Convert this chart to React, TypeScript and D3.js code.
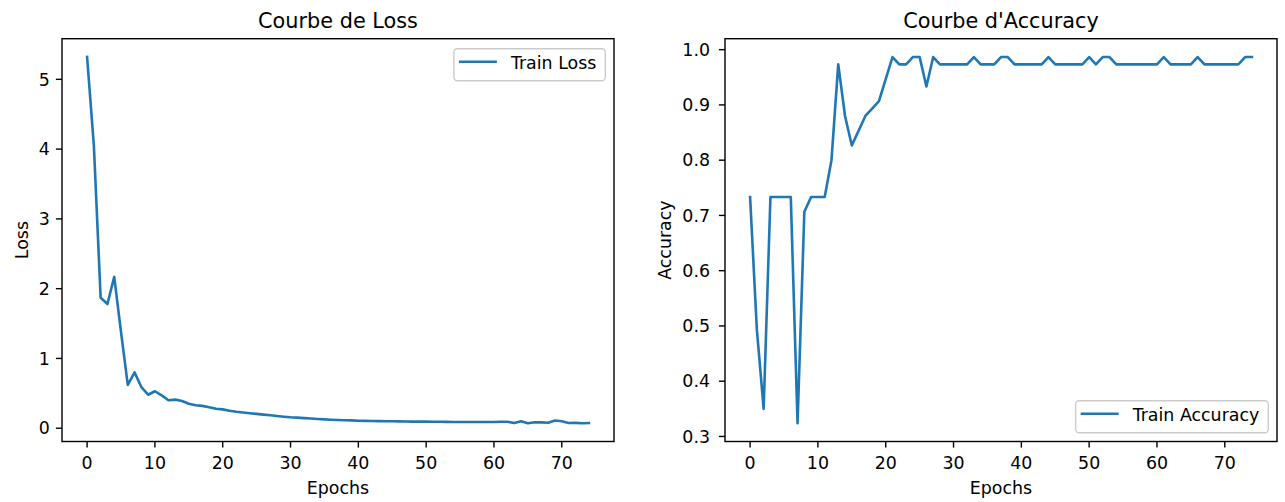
import React, { useEffect, useRef } from "react";
import * as d3 from "d3";

// Train loss per epoch
const lossValues = [
  5.32, 4.05, 1.87, 1.78, 2.17, 1.38, 0.62, 0.8, 0.59, 0.48,
  0.53, 0.47, 0.4, 0.41, 0.39, 0.35, 0.33, 0.32, 0.3, 0.28,
  0.27, 0.25, 0.235, 0.225, 0.215, 0.205, 0.195, 0.185, 0.175, 0.165,
  0.157, 0.152, 0.145, 0.14, 0.133, 0.127, 0.122, 0.118, 0.115, 0.112,
  0.108, 0.105, 0.104, 0.102, 0.1, 0.099, 0.098, 0.097, 0.095, 0.094,
  0.094, 0.093, 0.092, 0.091, 0.09, 0.089, 0.09, 0.089, 0.088, 0.089,
  0.09, 0.093, 0.092, 0.075, 0.1, 0.072, 0.085, 0.084, 0.078, 0.11,
  0.1, 0.074, 0.076, 0.072, 0.075,
];

// Train accuracy per epoch
const accuracyValues = [
  0.7333, 0.4933, 0.35, 0.7333, 0.7333, 0.7333, 0.7333, 0.324, 0.7067, 0.7333,
  0.7333, 0.7333, 0.8, 0.9733, 0.88, 0.8267, 0.8533, 0.88, 0.8933, 0.9067,
  0.9467, 0.9867, 0.9733, 0.9733, 0.9867, 0.9867, 0.9333, 0.9867, 0.9733, 0.9733,
  0.9733, 0.9733, 0.9733, 0.9867, 0.9733, 0.9733, 0.9733, 0.9867, 0.9867, 0.9733,
  0.9733, 0.9733, 0.9733, 0.9733, 0.9867, 0.9733, 0.9733, 0.9733, 0.9733, 0.9733,
  0.9867, 0.9733, 0.9867, 0.9867, 0.9733, 0.9733, 0.9733, 0.9733, 0.9733, 0.9733,
  0.9733, 0.9867, 0.9733, 0.9733, 0.9733, 0.9733, 0.9867, 0.9733, 0.9733, 0.9733,
  0.9733, 0.9733, 0.9733, 0.9867, 0.9867,
];

const epochTicks = [0, 10, 20, 30, 40, 50, 60, 70];
const lossTicks = [0, 1, 2, 3, 4, 5];
const accuracyTicks = [0.3, 0.4, 0.5, 0.6, 0.7, 0.8, 0.9, 1.0];

const FONT = "DejaVu Sans, sans-serif";
const BLUE = "#1f77b4";

// matplotlib style auto limits: data range plus 5% each side
function padded(values: number[]): [number, number] {
  const [lo, hi] = d3.extent(values) as [number, number];
  const m = (hi - lo) * 0.05;
  return [lo - m, hi + m];
}

function drawPanel(svg, opts) {
  const { left, right, top, bottom, values, yTicks, yFormat, title, ylabel, legendLabel, legendPos, ylabelX, tickGap } = opts;

  const x = d3.scaleLinear().domain(padded(values.map((_, i) => i))).range([left, right]);
  const y = d3.scaleLinear().domain(padded(values)).range([bottom, top]);

  const g = svg.append("g").attr("font-family", FONT).attr("fill", "#000");

  // x ticks
  epochTicks.forEach((t) => {
    g.append("line")
      .attr("x1", x(t)).attr("x2", x(t))
      .attr("y1", bottom).attr("y2", bottom + 6.1)
      .attr("stroke", "#000").attr("stroke-width", 1.4);
    g.append("text")
      .attr("x", x(t)).attr("y", bottom + 27)
      .attr("text-anchor", "middle").attr("font-size", 17.4)
      .text(t);
  });

  // y ticks
  yTicks.forEach((t) => {
    g.append("line")
      .attr("x1", left - 6.1).attr("x2", left)
      .attr("y1", y(t)).attr("y2", y(t))
      .attr("stroke", "#000").attr("stroke-width", 1.4);
    g.append("text")
      .attr("x", left - tickGap).attr("y", y(t))
      .attr("dy", "0.36em")
      .attr("text-anchor", "end").attr("font-size", 17.4)
      .text(yFormat(t));
  });

  // the curve
  const line = d3.line<number>().x((_, i) => x(i)).y((d) => y(d));
  g.append("path")
    .datum(values)
    .attr("d", line)
    .attr("fill", "none")
    .attr("stroke", BLUE)
    .attr("stroke-width", 2.6)
    .attr("stroke-linejoin", "round")
    .attr("stroke-linecap", "square");

  // frame
  g.append("rect")
    .attr("x", left).attr("y", top)
    .attr("width", right - left).attr("height", bottom - top)
    .attr("fill", "none").attr("stroke", "#000").attr("stroke-width", 1.4);

  // title + labels
  g.append("text")
    .attr("x", (left + right) / 2).attr("y", top - 10.8)
    .attr("text-anchor", "middle").attr("font-size", 20.8)
    .text(title);
  g.append("text")
    .attr("x", (left + right) / 2).attr("y", 494)
    .attr("text-anchor", "middle").attr("font-size", 17.4)
    .text("Epochs");
  g.append("text")
    .attr("transform", `translate(${ylabelX},${(top + bottom) / 2}) rotate(-90)`)
    .attr("text-anchor", "middle").attr("font-size", 17.4)
    .text(ylabel);

  // legend
  const lg = g.append("g");
  const box = lg.append("rect");
  const label = lg.append("text").attr("font-size", 17.4).text(legendLabel);
  const textW = (label.node() as SVGTextElement).getComputedTextLength();
  const w = 5 + 38 + 14 + textW + 9;
  const h = 32;
  const bx = right - 8.7 - w;
  const by = legendPos === "top" ? top + 10 : bottom - 8.7 - h;
  box
    .attr("x", bx).attr("y", by).attr("width", w).attr("height", h)
    .attr("rx", 3.5)
    .attr("fill", "#fff").attr("fill-opacity", 0.8)
    .attr("stroke", "#cccccc").attr("stroke-width", 1.4);
  lg.append("line")
    .attr("x1", bx + 5).attr("x2", bx + 43)
    .attr("y1", by + 13).attr("y2", by + 13)
    .attr("stroke", BLUE).attr("stroke-width", 2.6);
  label.attr("x", bx + 57).attr("y", by + 20);
}

export default function App() {
  const svgRef = useRef<SVGSVGElement>(null);

  useEffect(() => {
    const svg = d3.select(svgRef.current);
    svg.selectAll("*").remove();

    drawPanel(svg, {
      left: 62, right: 614, top: 38.7, bottom: 441.5,
      values: lossValues, yTicks: lossTicks, yFormat: (t) => String(t),
      title: "Courbe de Loss", ylabel: "Loss", legendLabel: "Train Loss",
      legendPos: "top", ylabelX: 27.8, tickGap: 12.2,
    });
    drawPanel(svg, {
      left: 725, right: 1277, top: 38.7, bottom: 441.5,
      values: accuracyValues, yTicks: accuracyTicks, yFormat: d3.format(".1f"),
      title: "Courbe d'Accuracy", ylabel: "Accuracy", legendLabel: "Train Accuracy",
      legendPos: "bottom", ylabelX: 671, tickGap: 15,
    });
  }, []);

  return (
    <div style={{ position: "fixed", left: 0, top: 0, background: "#fff" }}>
      <svg ref={svgRef} width={1285} height={502} style={{ display: "block" }} />
    </div>
  );
}
